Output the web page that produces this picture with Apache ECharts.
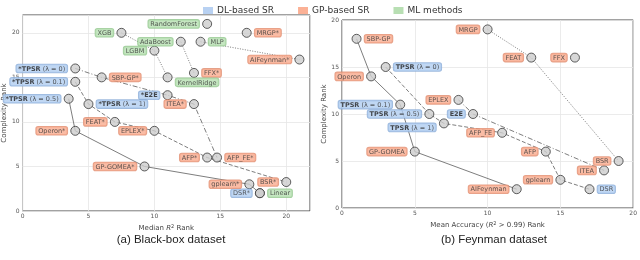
<!DOCTYPE html>
<html><head><meta charset="utf-8">
<script src="https://cdn.jsdelivr.net/npm/echarts@6/dist/echarts.min.js"></script>
<style>html,body{margin:0;padding:0;background:#fff}#c{width:640px;height:260px}</style>
</head><body><div id="c"></div>
<script>
// ---- Black-box dataset ----
const bbNames = ['RandomForest','XGB','MRGP*','AdaBoost','MLP','LGBM','AIFeynman*','FFX*','*TPSR (λ = 0)','SBP-GP*','KernelRidge','*TPSR (λ = 0.1)','*E2E','*TPSR (λ = 0.5)','ITEA*','*TPSR (λ = 1)','FEAT*','EPLEX*','Operon*','AFP*','AFP_FE*','GP-GOMEA*','gplearn*','BSR*','DSR*','Linear'];
const bbX = [14,7.5,17,12,13.5,10,21,13,4,6,11,4,11,3.5,13,5,7,10,4,14,14.75,9.25,17.2,20,18,18];
const bbY = [21,20,20,19,19,18,17,15.5,16,15,15,14.5,13,12.6,12,12,10,9,9,6,6,5,3,3.25,2,2];
const bbCat = ['ML','ML','GP','ML','ML','ML','GP','GP','DL','GP','ML','DL','DL','DL','GP','DL','GP','GP','GP','GP','GP','GP','GP','GP','DL','ML'];
const bbFronts = [
  ['*TPSR (λ = 0.5)','Operon*','GP-GOMEA*','gplearn*','DSR*'],
  ['*TPSR (λ = 0.1)','*TPSR (λ = 1)','FEAT*','EPLEX*','AFP*','BSR*'],
  ['*TPSR (λ = 0)','SBP-GP*','*E2E','ITEA*','AFP_FE*'],
  ['XGB','LGBM','KernelRidge'],
  ['AdaBoost','FFX*'],
  ['MLP','AIFeynman*']
];
// ---- Feynman dataset ----
const fyNames = ['MRGP','SBP-GP','FEAT','FFX','TPSR (λ = 0)','Operon','EPLEX','TPSR (λ = 0.1)','TPSR (λ = 0.5)','E2E','TPSR (λ = 1)','AFP_FE','AFP','GP-GOMEA','BSR','ITEA','gplearn','AIFeynman','DSR'];
const fyX = [10,1,13,16,3,2,8,4,6,9,7,11,14,5,19,18,15,12,17];
const fyY = [19,18,16,16,15,14,11.5,11,10,10,9,8,6,6,5,4,3,2,2];
const fyCat = ['GP','GP','GP','GP','DL','GP','GP','DL','DL','DL','DL','GP','GP','GP','GP','GP','GP','GP','DL'];
const fyFronts = [
  ['SBP-GP','Operon','TPSR (λ = 0.1)','GP-GOMEA','AIFeynman'],
  ['TPSR (λ = 0)','TPSR (λ = 0.5)','TPSR (λ = 1)','AFP_FE','AFP','gplearn','DSR'],
  ['EPLEX','E2E','ITEA'],
  ['MRGP','FEAT','BSR']
];
const catNames = {DL:'DL-based SR', GP:'GP-based SR', ML:'ML methods'};
const xTicks = [0,5,10,15,20];
const yTicks = [0,5,10,15,20];

// ---- styling (layout only) ----
const rightLabels = {bb:['MRGP*','MLP','FFX*','SBP-GP*','KernelRidge','*TPSR (λ = 1)','AFP_FE*','Linear'], fy:['SBP-GP','TPSR (λ = 0)','DSR']};
const labelOffsets = {bb:{'KernelRidge':[0,5]}, fy:{'TPSR (λ = 1)':[0,4]}};
const fill = {DL:'#b0cdf0', GP:'#f9ab8e', ML:'#b7e0b1'};
const border = {DL:'#86a9d6', GP:'#de8a6c', ML:'#8fc489'};
const legendCol = {DL:'#a6c6ef', GP:'#fa9d7c', ML:'#a6d7a0'};
const FONT = 'DejaVu Sans';
const lineTypes = ['solid',[4,2],[5,2,1,2],[1,1.5],[1,1.5],[1,1.5]];

function fmtLabel(name){
  const m = name.match(/^(\*?TPSR|\*?E2E)(.*)$/);
  if (m) return '{b|' + m[1] + '}' + (m[2] ? '{n|' + m[2] + '}' : '');
  return '{n|' + name + '}';
}

function buildSeries(key, names, xs, ys, cats, fronts, idx){
  const series = [];
  fronts.forEach((fr, k) => {
    const pts = fr.map(n => { const i = names.indexOf(n); return [xs[i], ys[i]]; }).sort((a,b)=>a[0]-b[0]);
    series.push({type:'line', xAxisIndex:idx, yAxisIndex:idx, data:pts, showSymbol:false, silent:true, z:1,
      lineStyle:{color:'#7e7e7e', width:1, type:lineTypes[k]}});
  });
  ['DL','GP','ML'].forEach(c => {
    const data = [];
    names.forEach((n,i) => {
      if (cats[i] !== c) return;
      const right = rightLabels[key].includes(n);
      data.push({name:n, value:[xs[i], ys[i]], label:{position: right ? 'right' : 'left', offset: (labelOffsets[key][n] || [0,0])}});
    });
    series.push({type:'scatter', name:catNames[c], xAxisIndex:idx, yAxisIndex:idx, z:3, data:data,
      symbol:'circle', symbolSize:9,
      itemStyle:{color:'#cdcdcd', borderColor:'#3a3a3a', borderWidth:1},
      label:{show:true, distance:3, formatter:p => fmtLabel(p.name),
        backgroundColor:fill[c], borderColor:border[c], borderWidth:0.8, borderRadius:2, padding:[1,2,0,2],
        rich:{b:{fontFamily:FONT, fontSize:6.5, fontWeight:'bold', color:'#222'}, n:{fontFamily:FONT, fontSize:6.5, color:'#333'}}}
    });
  });
  return series;
}

function xAxis(idx, max, nameRich){
  return {type:'value', gridIndex:idx, min:0, max:max, interval:5,
    name:nameRich, nameLocation:'middle', nameGap:7,
    nameTextStyle:{fontFamily:FONT, fontSize:7, color:'#444', rich:{i:{fontFamily:FONT, fontSize:7, fontStyle:'italic', color:'#444'}, s:{fontFamily:FONT, fontSize:5, color:'#444', verticalAlign:'top', padding:[0,0,4,0]}}},
    axisLine:{show:false}, axisTick:{show:false},
    axisLabel:{fontFamily:FONT, fontSize:6, color:'#555', margin:2, formatter:v => xTicks.includes(v) ? String(v) : ''},
    splitLine:{show:true, lineStyle:{color:'#e6e6e6', width:0.8}}};
}
function yAxis(idx, max, gap){
  return {type:'value', gridIndex:idx, min:0, max:max, interval:5,
    name:'Complexity Rank', nameLocation:'middle', nameGap:gap,
    nameTextStyle:{fontFamily:FONT, fontSize:7, color:'#444'},
    axisLine:{show:false}, axisTick:{show:false},
    axisLabel:{fontFamily:FONT, fontSize:6, color:'#555', margin:3, formatter:v => yTicks.includes(v) ? String(v) : ''},
    splitLine:{show:true, lineStyle:{color:'#e6e6e6', width:0.8}}};
}

const chart = echarts.init(document.getElementById('c'), null, {renderer:'canvas'});
chart.setOption({
  animation:false,
  backgroundColor:'#fff',
  title:[
    {text:'(a) Black-box dataset', left:166, top:229, textAlign:'center', textStyle:{fontFamily:'Liberation Sans', fontSize:11.5, fontWeight:'normal', color:'#222'}},
    {text:'(b) Feynman dataset', left:489, top:229, textAlign:'center', textStyle:{fontFamily:'Liberation Sans', fontSize:11.5, fontWeight:'normal', color:'#222'}}
  ],
  legend:{top:1, left:198, itemWidth:10, itemHeight:7, itemGap:24, icon:'rect',
    textStyle:{fontFamily:FONT, fontSize:9, color:'#333', padding:[0,0,0,-1]},
    data:['DL','GP','ML'].map(c => ({name:catNames[c], icon:'rect', itemStyle:{color:legendCol[c], borderWidth:0}}))},
  grid:[
    {left:17, top:15, width:293, height:196, show:true, borderColor:'#444', borderWidth:1, backgroundColor:'#fff'},
    {left:342, top:20, width:293, height:188, show:true, borderColor:'#444', borderWidth:1, backgroundColor:'#fff'}
  ],
  xAxis:[xAxis(0, 21.8, 'Median {i|R}{s|2} Rank'), xAxis(1, 20, 'Mean Accuracy ({i|R}{s|2} > 0.99) Rank')],
  yAxis:[yAxis(0, 22, 6), yAxis(1, 20, 10)],
  series:[].concat(
    buildSeries('bb', bbNames, bbX, bbY, bbCat, bbFronts, 0),
    buildSeries('fy', fyNames, fyX, fyY, fyCat, fyFronts, 1))
});
</script></body></html>
